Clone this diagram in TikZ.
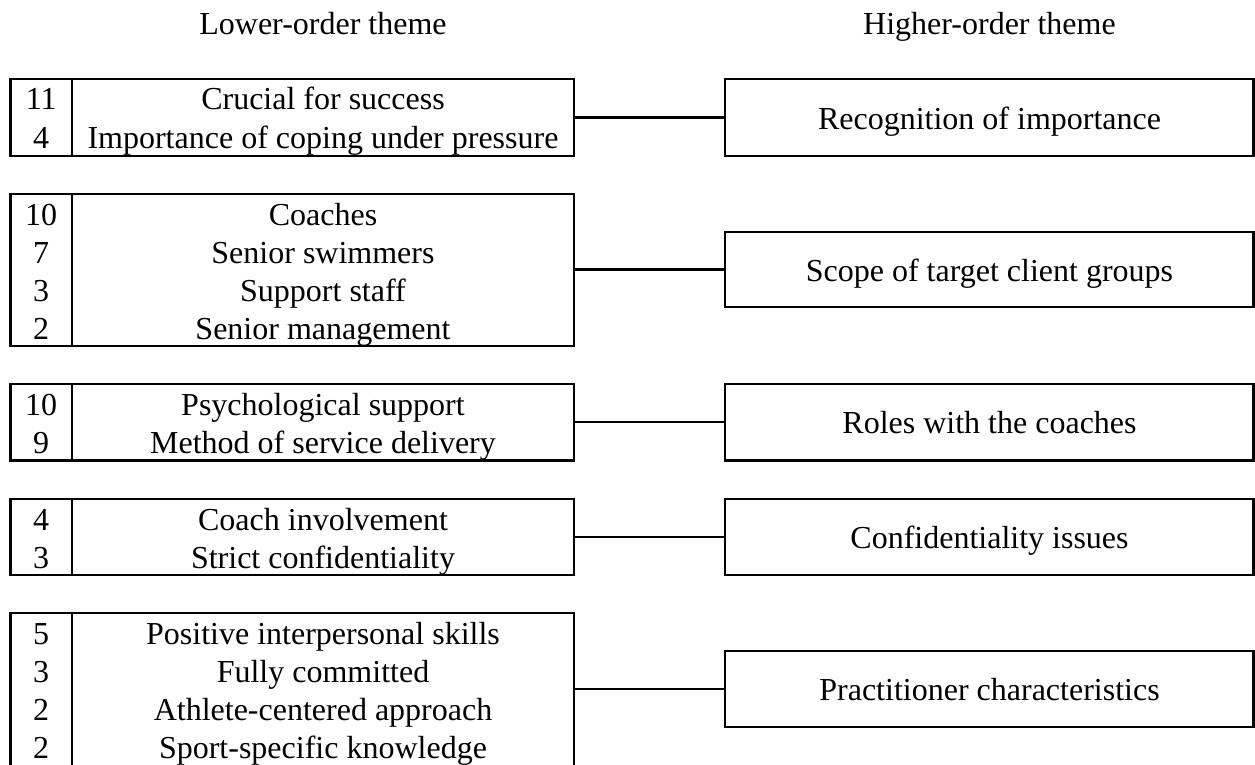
\documentclass[tikz,border=0pt]{standalone}
\usepackage{fontspec}
\setmainfont{Liberation Serif}
\begin{document}
\begin{tikzpicture}[x=1pt,y=-1pt,
  box/.style={draw, line width=2.2pt, inner sep=0pt, outer sep=0pt, anchor=north west},
  numcol/.style={box, minimum width=61.6pt},
  txtcol/.style={box, minimum width=502pt},
  hicol/.style={box, minimum width=528.5pt, minimum height=77pt},
  lbl/.style={anchor=base, inner sep=0pt, font=\fontsize{32}{38}\selectfont},
  link/.style={line width=2.2pt}]
\useasboundingbox (0,0) rectangle (1255,765);
% titles
\node[lbl] (tl) at (323,35) {Lower-order theme};
\node[lbl] (th) at (989.5,35) {Higher-order theme};
% group 1
\node[numcol, minimum height=77pt] (N1) at (10.4,79) {};
\node[txtcol, minimum height=77pt] (T1) at (72,79) {};
\node[hicol] (R1) at (725,79) {};
\node[lbl] (n11) at (41.2,110) {11};
\node[lbl] (n12) at (41.2,148.3) {4};
\node[lbl] (t11) at (323,110) {Crucial for success};
\node[lbl] (t12) at (323,148.3) {Importance of coping under pressure};
\node[lbl] (r1) at (989.5,129) {Recognition of importance};
\draw[link] (T1.east) -- (R1.west);
% group 2
\node[numcol, minimum height=152pt] (N2) at (10.4,194) {};
\node[txtcol, minimum height=152pt] (T2) at (72,194) {};
\node[hicol, minimum height=75.6pt] (R2) at (725,231.7) {};
\node[lbl] (n21) at (41.2,225) {10};
\node[lbl] (n22) at (41.2,263.3) {7};
\node[lbl] (n23) at (41.2,301.6) {3};
\node[lbl] (n24) at (41.2,339.9) {2};
\node[lbl] (t21) at (323,225) {Coaches};
\node[lbl] (t22) at (323,263.3) {Senior swimmers};
\node[lbl] (t23) at (323,301.6) {Support staff};
\node[lbl] (t24) at (323,339.9) {Senior management};
\node[lbl] (r2) at (989.5,281) {Scope of target client groups};
\draw[link] (T2.east |- R2.west) -- (R2.west);
% group 3
\node[numcol, minimum height=76.5pt] (N3) at (10.4,384) {};
\node[txtcol, minimum height=76.5pt] (T3) at (72,384) {};
\node[hicol, minimum height=76.5pt] (R3) at (725,384) {};
\node[lbl] (n31) at (41.2,415) {10};
\node[lbl] (n32) at (41.2,453.3) {9};
\node[lbl] (t31) at (323,415) {Psychological support};
\node[lbl] (t32) at (323,453.3) {Method of service delivery};
\node[lbl] (r3) at (989.5,433.5) {Roles with the coaches};
\draw[link] (T3.east) -- (R3.west);
% group 4
\node[numcol, minimum height=75.6pt] (N4) at (10.4,499) {};
\node[txtcol, minimum height=75.6pt] (T4) at (72,499) {};
\node[hicol, minimum height=75.6pt] (R4) at (725,499) {};
\node[lbl] (n41) at (41.2,530) {4};
\node[lbl] (n42) at (41.2,568.3) {3};
\node[lbl] (t41) at (323,530) {Coach involvement};
\node[lbl] (t42) at (323,568.3) {Strict confidentiality};
\node[lbl] (r4) at (989.5,548.5) {Confidentiality issues};
\draw[link] (T4.east) -- (R4.west);
% group 5
\node[numcol, minimum height=156pt] (N5) at (10.4,613) {};
\node[txtcol, minimum height=156pt] (T5) at (72,613) {};
\node[hicol, minimum height=76.6pt] (R5) at (725,650.7) {};
\node[lbl] (n51) at (41.2,644) {5};
\node[lbl] (n52) at (41.2,682.3) {3};
\node[lbl] (n53) at (41.2,720.6) {2};
\node[lbl] (n54) at (41.2,758.9) {2};
\node[lbl] (t51) at (323,644) {Positive interpersonal skills};
\node[lbl] (t52) at (323,682.3) {Fully committed};
\node[lbl] (t53) at (323,720.6) {Athlete-centered approach};
\node[lbl] (t54) at (323,758.9) {Sport-specific knowledge};
\node[lbl] (r5) at (989.5,700.5) {Practitioner characteristics};
\draw[link] (T5.east |- R5.west) -- (R5.west);
\end{tikzpicture}
\end{document}
